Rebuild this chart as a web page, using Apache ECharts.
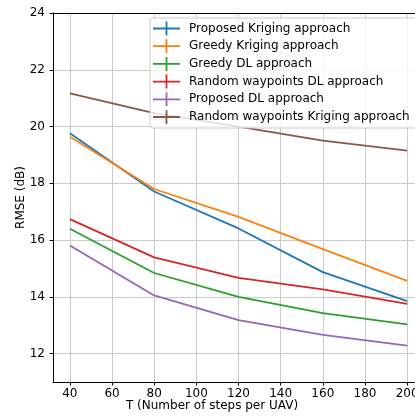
<!DOCTYPE html>
<html>
<head>
<meta charset="utf-8">
<script src="https://cdn.jsdelivr.net/npm/echarts@6/dist/echarts.min.js"></script>
<style>html,body{margin:0;padding:0;background:#fff}#c{width:415px;height:420px}</style>
</head>
<body>
<div id="c"></div>
<script>
const steps = [40, 80, 120, 160, 200];
const proposedKriging = [19.76, 17.71, 16.41, 14.87, 13.85];
const greedyKriging = [19.64, 17.80, 16.82, 15.68, 14.56];
const greedyDL = [16.40, 14.84, 14.00, 13.43, 13.03];
const randomDL = [16.74, 15.39, 14.67, 14.26, 13.75];
const proposedDL = [15.81, 14.05, 13.18, 12.66, 12.28];
const randomKriging = [21.17, 20.47, 20.00, 19.50, 19.15];
const xTicks = [40, 60, 80, 100, 120, 140, 160, 180, 200];
const yTicks = [12, 14, 16, 18, 20, 22, 24];
const seriesNames = ['Proposed Kriging approach', 'Greedy Kriging approach', 'Greedy DL approach',
  'Random waypoints DL approach', 'Proposed DL approach', 'Random waypoints Kriging approach'];
const seriesValues = [proposedKriging, greedyKriging, greedyDL, randomDL, proposedDL, randomKriging];
const colors = ['#1f77b4', '#ff7f0e', '#2ca02c', '#d62728', '#9467bd', '#8c564b'];

const font = 'DejaVu Sans';
const chart = echarts.init(document.getElementById('c'), null, {renderer: 'canvas'});
const plusIcon = 'path://M0,6.1H27V7.9H0Z M12.6,0H14.4V14H12.6Z';

chart.setOption({
  animation: false,
  backgroundColor: '#fff',
  color: colors,
  grid: {left: 53, top: 13, width: 371, height: 369, containLabel: false, outerBoundsMode: 'none'},
  xAxis: [{
    type: 'value', min: 32, max: 208,
    axisLine: {show: true, onZero: false, lineStyle: {color: '#000', width: 1}},
    axisTick: {show: true, length: 3.5, customValues: xTicks, lineStyle: {color: '#000'}},
    axisLabel: {customValues: xTicks, color: '#000', fontFamily: font, fontSize: 12, margin: 6},
    splitLine: {show: true, lineStyle: {color: '#cbcbcb', width: 1}}
  }, {
    type: 'value', min: 32, max: 208, position: 'top',
    axisLine: {show: true, onZero: false, lineStyle: {color: '#000', width: 1}},
    axisTick: {show: false}, axisLabel: {show: false}, splitLine: {show: false}
  }],
  yAxis: {
    type: 'value', min: 11, max: 24,
    name: 'RMSE (dB)', nameLocation: 'middle', nameGap: 26, nameMoveOverlap: false,
    nameTextStyle: {color: '#000', fontFamily: font, fontSize: 12},
    axisLine: {show: true, onZero: false, lineStyle: {color: '#000', width: 1}},
    axisTick: {show: true, length: 3.5, customValues: yTicks, lineStyle: {color: '#000'}},
    axisLabel: {customValues: yTicks, color: '#000', fontFamily: font, fontSize: 12, margin: 8},
    splitLine: {show: true, lineStyle: {color: '#cbcbcb', width: 1}}
  },
  legend: {
    orient: 'vertical', left: 150, top: 18,
    padding: [3.5, 20, 4, 3],
    itemWidth: 27, itemHeight: 14, itemGap: 3.7,
    icon: plusIcon,
    backgroundColor: 'rgba(255,255,255,0.8)',
    borderColor: '#cccccc', borderWidth: 1, borderRadius: 3,
    textStyle: {color: '#000', fontFamily: font, fontSize: 12, padding: [0, 0, 0, 4]},
    data: seriesNames
  },
  graphic: [{
    type: 'text', x: 212, y: 400,
    style: {text: 'T (Number of steps per UAV)', fill: '#000', font: '12px "DejaVu Sans"', align: 'center', verticalAlign: 'top'}
  }],
  series: seriesNames.map((n, i) => ({
    name: n, type: 'line', xAxisIndex: 0,
    data: steps.map((s, j) => [s, seriesValues[i][j]]),
    symbol: 'none', lineStyle: {width: 1.8, color: colors[i]}, itemStyle: {color: colors[i]}
  }))
});
</script>
</body>
</html>
